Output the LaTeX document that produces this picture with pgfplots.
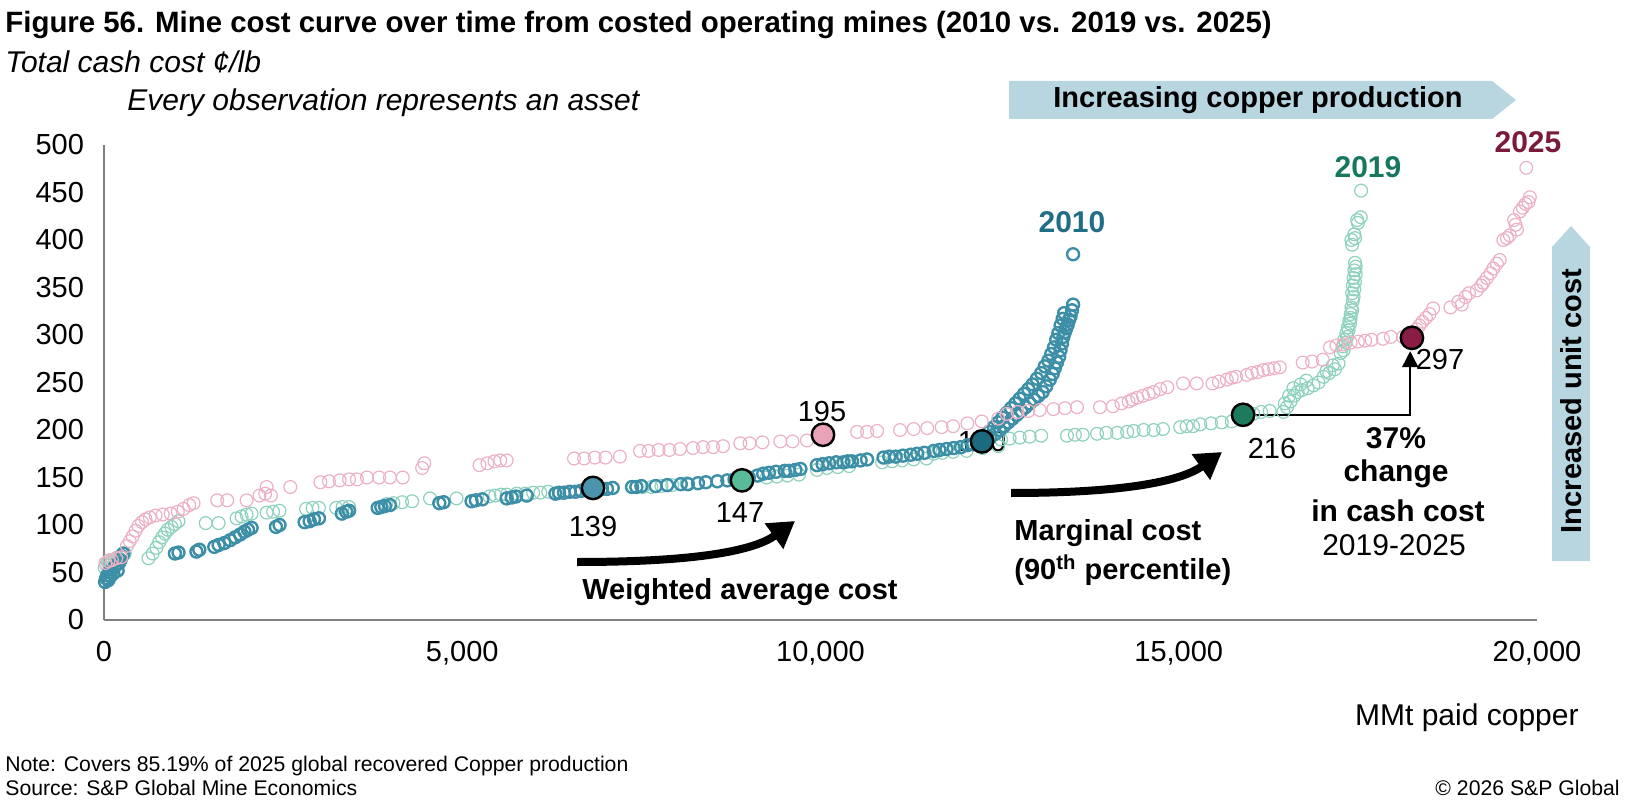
\documentclass[border=0pt]{standalone}
\usepackage{fontspec}
\setmainfont{Liberation Sans}
\usepackage{pgfplots}
\pgfplotsset{compat=1.18}
\usetikzlibrary{arrows.meta}
\definecolor{cA}{RGB}{60,143,166}
\definecolor{cB}{RGB}{141,209,190}
\definecolor{cC}{RGB}{237,177,196}
\definecolor{dA}{RGB}{74,149,172}
\definecolor{dB}{RGB}{88,186,152}
\definecolor{dC}{RGB}{232,163,184}
\definecolor{dA2}{RGB}{28,106,128}
\definecolor{dB2}{RGB}{30,122,92}
\definecolor{dC2}{RGB}{138,29,69}
\definecolor{lA}{RGB}{31,110,134}
\definecolor{lB}{RGB}{23,120,95}
\definecolor{lC}{RGB}{122,26,61}
\definecolor{banner}{RGB}{183,214,223}
\begin{document}
\begin{tikzpicture}
\path[use as bounding box] (0,0) rectangle (816pt,-403.5pt);
\begin{axis}[at={(52pt,-310pt)}, anchor=south west,
  width=716.5pt, height=237.5pt, scale only axis,
  xmin=0, xmax=20000, ymin=0, ymax=500,
  axis x line=bottom, axis y line=left,
  axis line style={-, draw=gray, line width=0.8pt},
  xtick={0,5000,10000,15000,20000}, ytick={0,50,...,500},
  major tick length=0pt, scaled x ticks=false,
  /pgf/number format/assume math mode=true,
  /pgf/number format/1000 sep={,},
  tick label style={font=\fontsize{14.5}{17}\selectfont},
  xticklabel style={yshift=-7pt}, yticklabel style={xshift=-6.5pt},
  clip=false]
% 2019
\addplot[only marks, mark=o, mark size=3.2pt, draw=cB, line width=0.6pt] coordinates {
(10,55)(30,58)(50,61)(80,63)(110,60)(150,64)(190,66)(240,68)(290,70)
(620,65)(680,70)(730,76)(770,82)(810,87)(850,91)(890,95)(940,98)(990,101)(1040,104)
(1420,102)(1600,102)(1850,107)(1920,109)(1990,111)(2060,112)(2270,113)(2360,114)(2450,115)(2820,117)(2910,118)(3000,118)(3240,118)(3330,119)(3420,119)(3940,122)(4040,123)(4160,124)(4300,125)(4550,128)(4920,128)(5380,130)(5460,131)(5540,132)(5620,132)(5760,133)(5880,133)(5990,134)(6090,134)(6200,135)(7520,140)(7640,140)(7780,141)(7930,142)(8130,144)(9250,150)(9390,151)(9540,152)(9700,153)(9950,158)(10090,160)(10240,161)(10400,162)(10860,166)(11000,167)(11140,168)(11300,169)(11480,170)(11580,175)(11700,176)(11850,177)(12040,178)(12260,181)(12480,183)(12520,190)(12640,191)(12780,192)(12920,193)(13080,194)(13440,194)(13550,195)(13660,195)(13860,196)(13990,197)(14140,197)(14280,198)(14370,199)(14510,200)(14650,200)(14780,201)(15020,203)(15110,204)(15200,204)(15300,206)(15450,207)(15600,208)(15740,209)(16040,217)(16150,219)(16270,220)(16460,219)(16510,224)(16560,230)(16610,236)(16660,240)(16720,242)(16800,244)(16880,247)(16950,250)(17020,256)(17100,260)(17180,264)(17230,270)(17260,281)(17290,288)(17310,295)(17340,302)(17360,308)(17380,315)(17400,322)(17410,329)(17420,344)(17430,352)(17440,360)(17450,368)(17460,376)(17410,400)(17450,406)(17490,421)(17540,424)(17545,452)
(16480,228)(16540,236)(16600,244)(16700,248)(16780,252)(17060,262)(17150,268)(17300,284)(17330,292)(17350,298)(17370,305)(17390,312)(17400,318)(17420,326)(17430,336)(17440,340)(17450,348)(17460,356)(17470,364)(17470,372)(17420,395)(17460,402)(17500,418)
};
% 2010
\addplot[only marks, mark=o, mark size=3pt, draw=cA, line width=1.2pt] coordinates {
(15,40)(30,44)(45,47)(60,42)(75,50)(90,46)(110,53)(130,49)(150,56)(170,58)(190,52)(210,60)(230,63)(250,67)(270,70)
(990,70)(1040,71)(1290,72)(1330,74)(1540,77)(1600,79)(1680,81)(1760,84)(1830,87)(1900,90)(1960,93)(2010,95)(2060,97)(2400,98)(2450,100)(2800,103)(2870,104)(2930,106)(3000,107)(3320,112)(3380,114)(3420,115)(3820,118)(3870,119)(3920,120)(3990,121)(4680,123)(4740,124)(5130,125)(5190,126)(5280,127)(5620,128)(5690,129)(5750,130)(5900,131)(6300,133)(6350,134)(6420,134)(6500,135)(6580,135)(6660,136)(6740,137)(6950,138)(7020,138)(7100,139)(7370,140)(7430,140)(7500,141)(7700,141)(7860,142)(8050,143)(8150,143)(8290,144)(8400,145)(8560,146)(8700,147)(8800,148)(9120,152)(9200,154)(9280,155)(9380,156)(9560,157)(9650,158)(9720,159)(9950,163)(10030,164)(10120,165)(10220,166)(10320,166)(10440,167)(10560,168)(10650,169)(10880,171)(10960,172)(11050,172)(11150,173)(11260,174)(11350,175)(11580,178)(11660,179)(11760,180)(11860,181)(11960,182)(12050,184)(12130,185)(12200,186)(12300,189)(12370,192)(12440,196)(12500,200)(12560,204)(12620,208)(12680,212)(12740,216)(12800,220)(12860,224)(12920,228)(12980,232)(13040,236)(13100,240)(13150,246)(13200,253)(13240,259)(13270,265)(13300,271)(13330,277)(13350,284)(13370,291)(13390,298)(13410,303)(13430,307)(13450,311)(13470,316)(13490,320)(13510,326)(13525,332)(13525,385)
(12280,193)(12350,198)(12420,203)(12480,208)(12540,213)(12600,218)(12660,223)(12720,228)(12780,233)(12840,238)(12900,243)(12960,248)(13020,254)(13080,260)(13130,267)(13180,273)(13220,280)(13260,287)(13290,295)(13320,302)(13350,310)(13380,317)(13400,323)
(9000,150)(9500,157)(10380,167)(11450,176)
};
% 2025
\addplot[only marks, mark=o, mark size=3.2pt, draw=cC, line width=0.6pt] coordinates {
(20,60)(60,62)(110,63)(170,65)(240,66)
(320,78)(360,83)(400,88)(440,94)(480,99)(530,103)(580,106)(640,108)(720,110)(820,111)(930,112)(1030,114)(1110,117)(1190,121)(1250,123)
(1580,126)(1720,126)(1990,126)(2170,131)(2250,133)(2270,140)(2330,131)(2600,140)(3020,145)(3140,146)(3290,147)(3420,148)(3530,148)(3670,150)(3840,150)(3990,150)(4170,150)(4440,160)(4470,165)(5240,163)(5350,165)(5450,167)(5530,168)(5620,168)(6560,170)(6700,170)(6850,171)(7000,171)(7200,172)(7480,178)(7600,178)(7740,179)(7890,179)(8040,180)(8220,181)(8360,182)(8500,182)(8640,183)(8880,186)(9010,186)(9190,187)(9440,188)(9610,188)(9810,189)(10510,198)(10650,198)(10790,199)(11110,200)(11300,201)(11490,202)(11690,203)(11850,204)(12050,207)(12250,209)(12480,212)(12600,217)(12750,219)(12900,220)(13060,221)(13250,222)(13410,223)(13580,224)(13900,224)(14080,225)(14200,228)(14350,232)(14500,236)(14650,240)(14840,245)(15060,249)(15250,249)(15470,249)(15670,253)(15800,256)(15950,258)(16100,261)(16250,264)(16410,266)(16730,271)(16860,272)(17010,274)(17110,287)(17300,290)(17500,293)(17690,295)(17850,296)(17960,298)(18130,298)(18280,302)(18360,310)(18450,318)(18550,328)(18790,329)(18900,335)(19000,340)(19160,347)(19220,352)(19300,360)(19390,370)(19480,379)(19530,400)(19620,405)(19720,411)(19680,421)(19760,430)(19840,438)(19900,445)(19850,476)
(14300,230)(14420,234)(14580,238)(14740,243)(15560,251)(15740,255)(16020,260)(16180,263)(16330,265)(17200,289)(17400,292)(17600,294)(18320,306)(18400,314)(18500,322)(18950,332)(19050,344)(19250,355)(19350,365)(19440,375)(19580,402)(19700,416)(19800,434)(19880,440)
};
% annotations in axis
\node[font=\fontsize{14.5}{17}\selectfont] at (axis cs:12254,188) {190};
\draw[line width=0.8pt, -{Triangle[length=8pt,width=8pt]}] (axis cs:15898,216) -- (axis cs:18230,216) -- (axis cs:18230,283);
\addplot[only marks, mark=*, mark size=5.6pt, draw=black, fill=dA, line width=1.2pt] coordinates {(6825,139)};
\addplot[only marks, mark=*, mark size=5.6pt, draw=black, fill=dB, line width=1.2pt] coordinates {(8904,147)};
\addplot[only marks, mark=*, mark size=5.6pt, draw=black, fill=dC, line width=1.2pt] coordinates {(10035,195)};
\addplot[only marks, mark=*, mark size=5.6pt, draw=black, fill=dA2, line width=1.2pt] coordinates {(12254,188)};
\addplot[only marks, mark=*, mark size=5.6pt, draw=black, fill=dB2, line width=1.2pt] coordinates {(15898,216)};
\addplot[only marks, mark=*, mark size=5.6pt, draw=black, fill=dC2, line width=1.2pt] coordinates {(18254,297)};
\node[font=\fontsize{14.5}{17}\selectfont] at (axis cs:6825,98) {139};
\node[font=\fontsize{14.5}{17}\selectfont] at (axis cs:8876,113) {147};
\node[font=\fontsize{14.5}{17}\selectfont] at (axis cs:10021,219) {195};
\node[font=\fontsize{14.5}{17}\selectfont] at (axis cs:16301,181) {216};
\node[font=\fontsize{14.5}{17}\selectfont] at (axis cs:18646,274) {297};
\node[font=\bfseries\fontsize{15}{17}\selectfont, text=lA] at (axis cs:13510,419) {2010};
\node[font=\bfseries\fontsize{15}{17}\selectfont, text=lB] at (axis cs:17641,477) {2019};
\node[font=\bfseries\fontsize{15}{17}\selectfont, text=lC] at (axis cs:19874,503) {2025};
\end{axis}
\begin{scope}[x=0.5pt,y=-0.5pt]
\node[anchor=base west, inner sep=0, font=\bfseries\fontsize{14.7}{17}\selectfont] at (5,33) {Figure 56. Mine cost curve over time from costed operating mines (2010 vs. 2019 vs. 2025)};
\node[anchor=base west, inner sep=0, font=\itshape\fontsize{15}{17}\selectfont] at (5,73) {Total cash cost ¢/lb};
\node[anchor=base west, inner sep=0, font=\itshape\fontsize{15}{17}\selectfont] at (127,111) {Every observation represents an asset};
\fill[banner] (1009,81) -- (1492,81) -- (1516,100) -- (1492,119) -- (1009,119) -- cycle;
\node[font=\bfseries\fontsize{14.5}{17}\selectfont] at (1258,100) {Increasing copper production};
\fill[banner] (1552,561) -- (1552,247) -- (1571,226) -- (1590,247) -- (1590,561) -- cycle;
\node[rotate=90, font=\bfseries\fontsize{14.5}{17}\selectfont] at (1571,401) {Increased unit cost};
\draw[line width=4pt, -{Triangle[length=13pt,width=15pt]}] (577,562) .. controls (700,562) and (755,550) .. (795,521);
\draw[line width=4pt, -{Triangle[length=13pt,width=15pt]}] (1011,493) .. controls (1120,493) and (1180,482) .. (1222,452);
\node[font=\bfseries\fontsize{14.5}{17}\selectfont] at (740,592) {Weighted average cost};
\node[anchor=west, inner sep=0, font=\bfseries\fontsize{14.5}{17}\selectfont] at (1014,533) {Marginal cost};
\node[anchor=west, inner sep=0, font=\bfseries\fontsize{14.5}{17}\selectfont] at (1014,570) {(90\textsuperscript{th} percentile)};
\node[font=\bfseries\fontsize{15}{17}\selectfont] at (1396,438) {37\%};
\node[font=\bfseries\fontsize{15}{17}\selectfont] at (1396,474) {change};
\node[font=\bfseries\fontsize{15}{17}\selectfont] at (1398,511) {in cash cost};
\node[font=\fontsize{15}{17}\selectfont] at (1394,545) {2019-2025};
\node[anchor=base east, inner sep=0, font=\fontsize{15}{17}\selectfont] at (1579,725) {MMt paid copper};
\node[anchor=base west, inner sep=0, font=\fontsize{10.6}{12}\selectfont] at (5,771) {Note: Covers 85.19\% of 2025 global recovered Copper production};
\node[anchor=base west, inner sep=0, font=\fontsize{10.6}{12}\selectfont] at (5,795) {Source: S\&P Global Mine Economics};
\node[anchor=base east, inner sep=0, font=\fontsize{10.6}{12}\selectfont] at (1620,795) {© 2026 S\&P Global};
\end{scope}
\end{tikzpicture}
\end{document}
